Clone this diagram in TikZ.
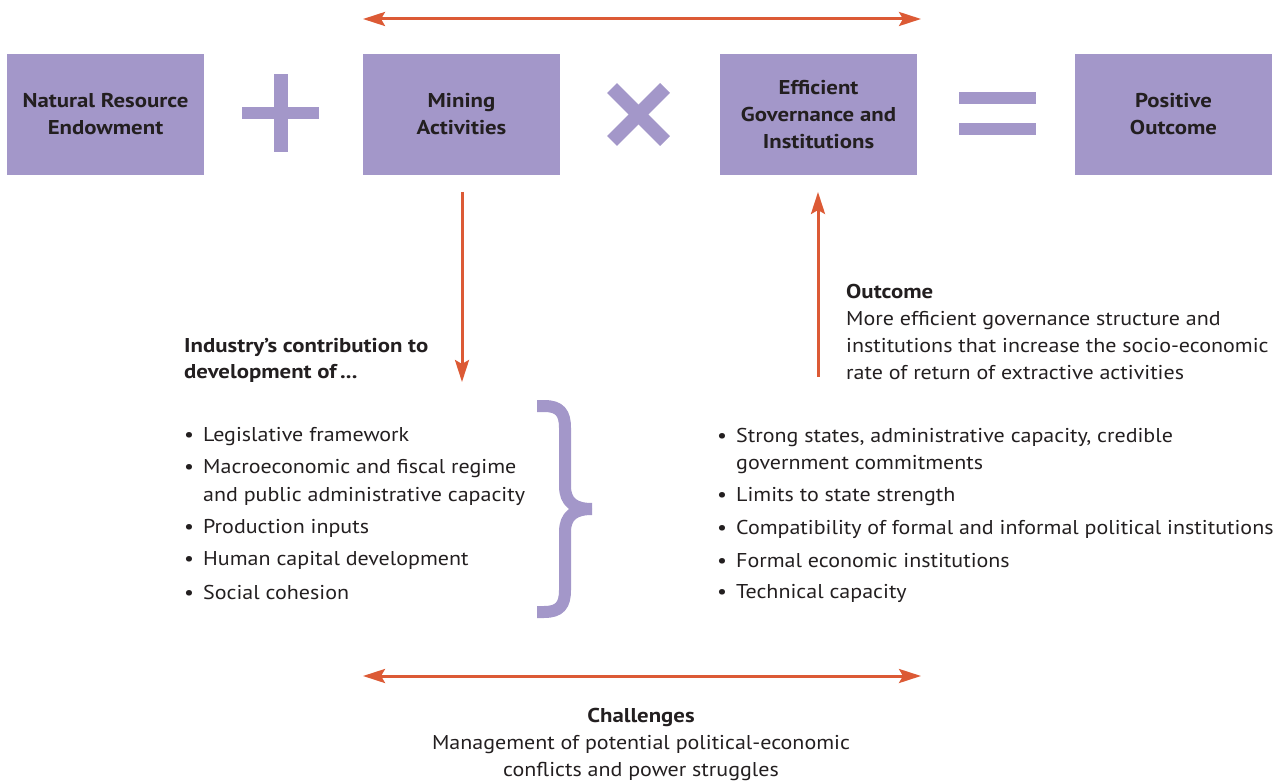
\documentclass[tikz,border=0pt]{standalone}
\usepackage{fontspec}
\setmainfont{PT Sans}[FakeStretch=1.10, BoldFeatures={FakeStretch=1.14}]
\usetikzlibrary{arrows.meta}
\definecolor{purp}{HTML}{A397C9}
\definecolor{org}{HTML}{DC5A35}
\definecolor{txt}{HTML}{231F20}
\newcommand{\bul}{\makebox[19pt][l]{•}}
\begin{document}
\begin{tikzpicture}[x=1pt,y=-1pt,
  >={Stealth[length=22pt,width=14pt,inset=4pt]},
  box/.style={fill=purp, minimum width=197pt, minimum height=121pt, inner sep=0pt, align=center, font=\fontsize{20}{27}\selectfont\bfseries, text=txt},
  conn/.style={draw=org, line width=3pt, ->},
  conn2/.style={draw=org, line width=3pt, <->},
  body/.style={font=\fontsize{20}{28}\selectfont, text=txt, inner sep=0pt, anchor=west, align=left},
  bracestyle/.style={draw=purp, line width=12pt, line cap=butt, line join=round}]
\useasboundingbox (0,0) rectangle (1282,783);

% boxes
\node[box] (nre) at (105.5,114.5) {Natural Resource\\Endowment};
\node[box] (mining) at (461.5,114.5) {Mining\\Activities};
\node[box] (egi) at (818.5,114.5) {Efficient\\Governance and\\Institutions};
\node[box] (pos) at (1173.5,114.5) {Positive\\Outcome};

% operators
\fill[purp] (273.5,74) rectangle (287.5,152);
\fill[purp] (242,107) rectangle (319,119);
\draw[purp, line width=14pt] (612,88) -- (665,141);
\draw[purp, line width=14pt] (612,141) -- (665,88);
\fill[purp] (959,92) rectangle (1036,104);
\fill[purp] (959,123) rectangle (1036,135);

% coordinates for connectors
\coordinate (tl) at (363,19);
\coordinate (tr) at (921,19);
\coordinate (bl) at (363,676);
\coordinate (br) at (921,676);
\coordinate (dstart) at (462,192);
\coordinate (dend) at (462,382);
\coordinate (ustart) at (818,377);
\coordinate (uend) at (818,192);

\draw[conn2] (tl) -- (tr);
\draw[conn2] (bl) -- (br);
\draw[conn] (dstart) -- (dend);
\draw[conn] (ustart) -- (uend);

% left text
\node[body, font=\fontsize{20}{26}\selectfont\bfseries] (ind) at (184,360) {Industry’s contribution to\\development of\,...};
\node[body] (l1) at (184,437) {\bul Legislative framework};
\node[body] (l2) at (184,482) {\bul Macroeconomic and fiscal regime\\\hspace*{19pt}and public administrative capacity};
\node[body] (l3) at (184,528) {\bul Production inputs};
\node[body] (l4) at (184,560) {\bul Human capital development};
\node[body] (l5) at (184,592) {\bul Social cohesion};

% brace
\draw[bracestyle] (537,406) -- (544,406) .. controls (560,406) and (565,413) .. (565,428) -- (565,486) .. controls (565,502) and (574,509) .. (592,509);
\draw[bracestyle] (537,612) -- (544,612) .. controls (560,612) and (565,605) .. (565,590) -- (565,532) .. controls (565,516) and (574,509) .. (592,509);

% right text
\node[body, font=\fontsize{20}{26.7}\selectfont] (outc) at (846,332) {\textbf{Outcome}\\More efficient governance structure and\\institutions that increase the socio-economic\\rate of return of extractive activities};
\node[body, font=\fontsize{20}{27}\selectfont] (r1) at (717,451) {\bul Strong states, administrative capacity, credible\\\hspace*{19pt}government commitments};
\node[body] (r2) at (717,497) {\bul Limits to state strength};
\node[body] (r3) at (717,529) {\bul Compatibility of formal and informal political institutions};
\node[body] (r4) at (717,561) {\bul Formal economic institutions};
\node[body] (r5) at (717,593) {\bul Technical capacity};

% challenges
\node[body, anchor=center, align=center, font=\fontsize{20}{27}\selectfont] (chal) at (641,744) {\textbf{Challenges}\\Management of potential political-economic\\conflicts and power struggles};
\end{tikzpicture}
\end{document}
